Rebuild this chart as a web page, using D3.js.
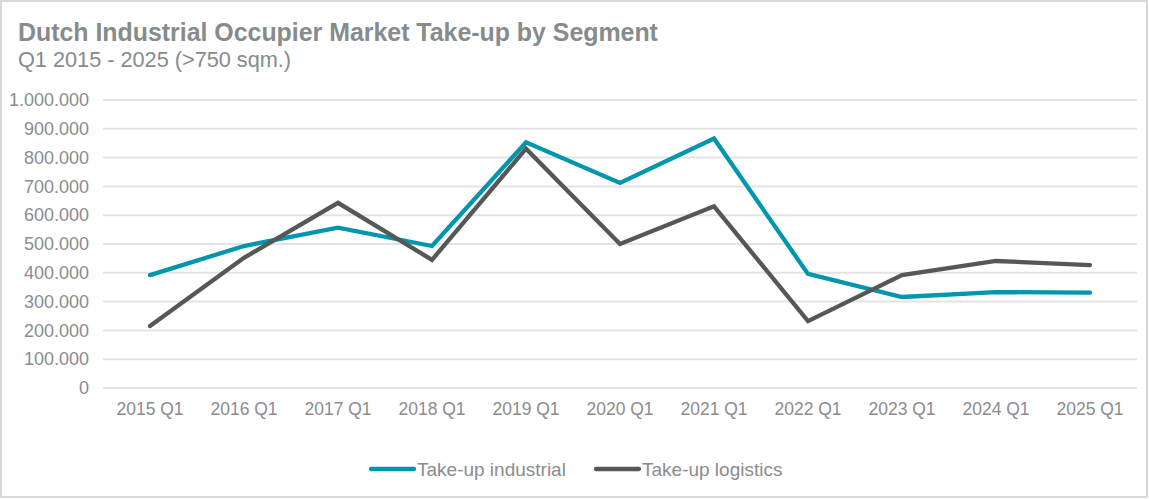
<!DOCTYPE html>
<html>
<head>
<meta charset="utf-8">
<script src="https://cdn.jsdelivr.net/npm/d3@7"></script>
<style>
  html, body { margin: 0; padding: 0; background: #fff; }
  svg { display: block; font-family: "Liberation Sans", Arial, sans-serif; }
</style>
</head>
<body>
<div id="chart"></div>
<script>
// 数据
const quarters = ['2015 Q1', '2016 Q1', '2017 Q1', '2018 Q1', '2019 Q1', '2020 Q1',
  '2021 Q1', '2022 Q1', '2023 Q1', '2024 Q1', '2025 Q1'];
const industrial = [392000, 493000, 557000, 493000, 853000, 712000, 866000, 396000, 316000, 333000, 331000];
const logistics = [215000, 452000, 643000, 445000, 831000, 500000, 631000, 232000, 392000, 441000, 427000];
const yTicks = [0, 100000, 200000, 300000, 400000, 500000, 600000, 700000, 800000, 900000, 1000000];
const seriesNames = ['Take-up industrial', 'Take-up logistics'];

const width = 1149, height = 499;
const margin = { top: 100, right: 12, bottom: 111, left: 103 };
const colors = ['#0096ae', '#575757'];
const textColor = '#8c8c8c';

const svg = d3.select('#chart').append('svg')
  .attr('width', width)
  .attr('height', height);

// 外框
svg.append('rect')
  .attr('x', 1).attr('y', 1)
  .attr('width', width - 3).attr('height', height - 3)
  .attr('fill', '#fff')
  .attr('stroke', '#d9d9d9')
  .attr('stroke-width', 2);

// 标题
svg.append('text')
  .attr('x', 18).attr('y', 41)
  .style('font-size', '24.9px')
  .style('font-weight', 'bold')
  .style('fill', '#868b8c')
  .text('Dutch Industrial Occupier Market Take-up by Segment');

svg.append('text')
  .attr('x', 18).attr('y', 67)
  .style('font-size', '21.7px')
  .style('fill', '#868b8c')
  .text('Q1 2015 - 2025 (>750 sqm.)');

const x = d3.scaleBand()
  .domain(quarters)
  .range([margin.left, width - margin.right])
  .padding(0);

const y = d3.scaleLinear()
  .domain([0, 1000000])
  .range([height - margin.bottom, margin.top]);

const fmt = v => v === 0 ? '0' : d3.format(',')(v).replace(/,/g, '.');

// 网格线
svg.append('g')
  .selectAll('line')
  .data(yTicks)
  .enter()
  .append('line')
  .attr('x1', margin.left)
  .attr('x2', width - margin.right)
  .attr('y1', d => y(d))
  .attr('y2', d => y(d))
  .attr('stroke', '#e3e3e3')
  .attr('stroke-width', 2);

// y 轴
const yAxis = svg.append('g')
  .attr('transform', `translate(${margin.left - 14},0)`)
  .call(d3.axisLeft(y).tickValues(yTicks).tickFormat(fmt).tickSize(0).tickPadding(0));
yAxis.select('.domain').remove();
yAxis.selectAll('text')
  .style('font-size', '18px')
  .style('font-family', '"Liberation Sans", Arial, sans-serif')
  .style('fill', textColor);

// x 轴
const xAxis = svg.append('g')
  .attr('transform', `translate(0,${height - margin.bottom + 15})`)
  .call(d3.axisBottom(x).tickSize(0).tickPadding(0));
xAxis.select('.domain').remove();
xAxis.selectAll('text')
  .attr('dy', '0.71em')
  .style('font-size', '17.5px')
  .style('font-family', '"Liberation Sans", Arial, sans-serif')
  .style('fill', textColor);

// 折线
const line = d3.line()
  .x((d, i) => x(quarters[i]) + x.bandwidth() / 2)
  .y(d => y(d));

[industrial, logistics].forEach((values, i) => {
  svg.append('path')
    .datum(values)
    .attr('d', line)
    .attr('fill', 'none')
    .attr('stroke', colors[i])
    .attr('stroke-width', 4.3)
    .attr('stroke-linejoin', 'miter')
    .attr('stroke-linecap', 'round');
});

// 图例
const legendX = [371, 596];
const legend = svg.append('g');
seriesNames.forEach((name, i) => {
  legend.append('line')
    .attr('x1', legendX[i]).attr('x2', legendX[i] + 43)
    .attr('y1', 469).attr('y2', 469)
    .attr('stroke', colors[i])
    .attr('stroke-width', 4.3)
    .attr('stroke-linecap', 'round');
  legend.append('text')
    .attr('x', legendX[i] + 46)
    .attr('y', 475.5)
    .style('font-size', '19px')
    .style('fill', textColor)
    .text(name);
});
</script>
</body>
</html>
